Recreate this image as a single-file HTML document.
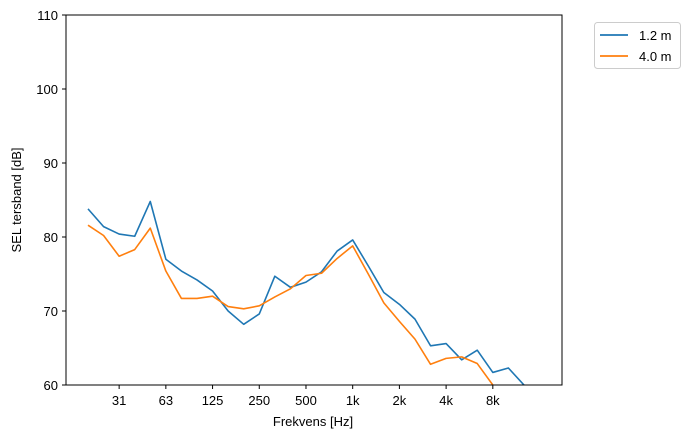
<!DOCTYPE html>
<html><head><meta charset="utf-8"><style>
body{margin:0;background:#fff;font-family:"Liberation Sans",sans-serif}
svg text{font-family:"Liberation Sans",sans-serif;font-size:13px;fill:#000}
</style></head><body>
<svg width="693" height="438">
<defs><clipPath id="c"><rect x="66" y="15" width="496" height="370"/></clipPath></defs>
<g id="grid"></g>
<g id="series" clip-path="url(#c)"></g>
<rect x="66" y="15" width="496" height="370" fill="none" stroke="#000" stroke-width="1"/>
<text x="313" y="426" text-anchor="middle">Frekvens [Hz]</text>
<text transform="translate(21,200) rotate(-90)" text-anchor="middle">SEL tersband [dB]</text>
<g>
<rect x="594.5" y="22.5" width="86" height="46" rx="3" fill="#fff" stroke="#ccc"/>
<line x1="600" y1="35" x2="628" y2="35" stroke="#1f77b4" stroke-width="1.8"/>
<text x="639" y="40">1.2 m</text>
<line x1="600" y1="56" x2="628" y2="56" stroke="#ff7f0e" stroke-width="1.8"/>
<text x="639" y="61">4.0 m</text>
</g>
</svg>
<script>
const blue=[83.8,81.4,80.4,80.1,84.8,77.0,75.4,74.2,72.7,70.0,68.2,69.6,74.7,73.2,73.9,75.3,78.1,79.6,76.1,72.5,70.9,68.9,65.3,65.6,63.4,64.7,61.7,62.3,60.0,58.0];
const orange=[81.6,80.2,77.4,78.3,81.2,75.4,71.7,71.7,72.0,70.6,70.3,70.7,71.9,73.0,74.8,75.1,77.1,78.8,75.0,71.1,68.6,66.2,62.8,63.6,63.8,62.9,60.0,58.0];
const yTicks=[60,70,80,90,100,110];
const xTickIdx=[2,5,8,11,14,17,20,23,26];
const xTickLabels=["31","63","125","250","500","1k","2k","4k","8k"];
const NS="http://www.w3.org/2000/svg";
const svg=document.querySelector('svg');
const grid=document.getElementById('grid'), ser=document.getElementById('series');
const xs=i=>88+i*15.57;
const ys=v=>385-(v-60)*7.4;
function mk(t,a,p){const e=document.createElementNS(NS,t);for(const k in a)e.setAttribute(k,a[k]);(p||svg).appendChild(e);return e;}
yTicks.forEach(v=>{
 const l=mk('line',{x1:62,x2:66,y1:ys(v),y2:ys(v),stroke:'#000'});
 
 
 const t=mk('text',{x:58,y:ys(v)+5,'text-anchor':'end'});t.textContent=v;
 
 
});
xTickIdx.forEach((i,k)=>{
 const l=mk('line',{x1:xs(i),x2:xs(i),y1:385,y2:389,stroke:'#000'});
 
 
 const t=mk('text',{x:xs(i),y:405,'text-anchor':'middle'});t.textContent=xTickLabels[k];
 
 
});
function line(d,c,n){
 const p=mk('polyline',{points:d.map((v,i)=>xs(i)+','+ys(v)).join(' '),fill:'none',stroke:c,'stroke-width':1.6,'stroke-linejoin':'round'},ser);
 
 
}
line(blue,'#1f77b4','series-1-2m');
line(orange,'#ff7f0e','series-4-0m');
</script>
</body></html>
